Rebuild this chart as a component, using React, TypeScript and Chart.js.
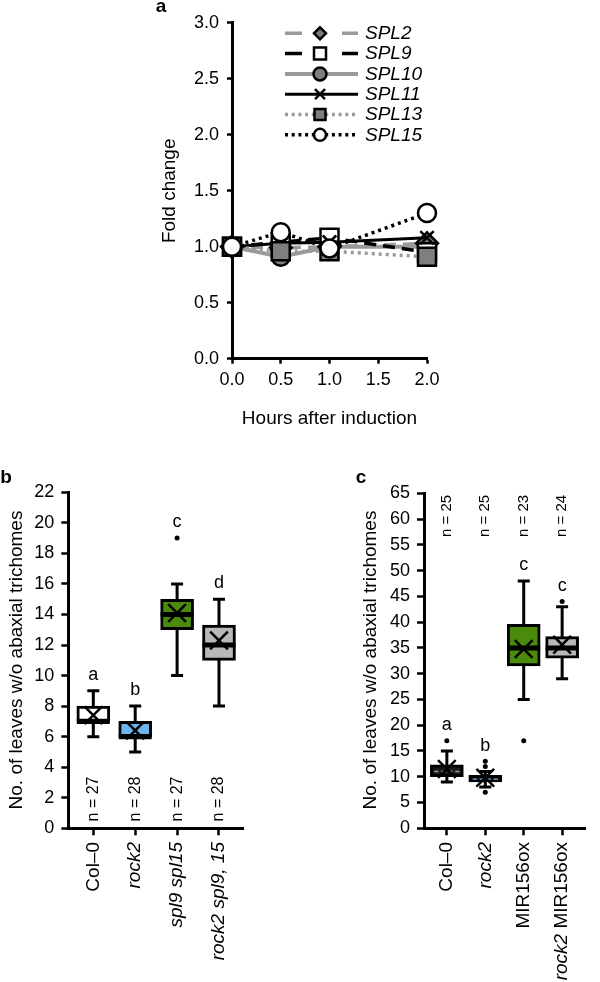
import React, { useEffect, useRef } from 'react';
import { Chart, registerables } from 'chart.js';

Chart.register(...registerables);

const FONT_FAMILY = '"Liberation Sans", Arial, Helvetica, sans-serif';

// ---------------- Panel a data ----------------
const hours = [0, 0.5, 1.0, 2.0];
const spl2Values = [1.0, 0.99, 1.0, 1.03];
const spl9Values = [1.0, 1.04, 1.08, 0.95];
const spl10Values = [1.0, 0.91, 1.0, 1.0];
const spl11Values = [1.0, 1.03, 1.04, 1.08];
const spl13Values = [1.0, 0.96, 0.96, 0.91];
const spl15Values = [1.0, 1.13, 0.985, 1.3];
const foldTicks = [0, 0.5, 1.0, 1.5, 2.0, 2.5, 3.0];
const hourTicks = [0, 0.5, 1.0, 1.5, 2.0];
const seriesLabels = ['SPL2', 'SPL9', 'SPL10', 'SPL11', 'SPL13', 'SPL15'];

// ---------------- Panel b data ----------------
const bGenotypes = ['Col–0', 'rock2', 'spl9 spl15', 'rock2 spl9, 15'];
const bMin = [6, 5, 10, 8];
const bQ1 = [7, 6, 13, 11];
const bMedian = [7, 6, 14, 12];
const bQ3 = [8, 7, 15, 13.3];
const bMax = [9, 8, 16, 15];
const bMean = [7.4, 6.4, 14.1, 12.3];
const bOutlierGroup = [3];
const bOutlierValue = [19];
const bLetters = ['a', 'b', 'c', 'd'];
const bCounts = ['n = 27', 'n = 28', 'n = 27', 'n = 28'];
const bTicks = [0, 2, 4, 6, 8, 10, 12, 14, 16, 18, 20, 22];

// ---------------- Panel c data ----------------
const cGenotypes = ['Col–0', 'rock2', 'MIR156ox', 'rock2 MIR156ox'];
const cMin = [9, 8, 25, 29];
const cQ1 = [10, 9, 31.5, 33];
const cMedian = [11, 9.5, 35, 35];
const cQ3 = [12.3, 10.3, 39.6, 37.2];
const cMax = [15, 11, 48, 43];
const cMean = [11.5, 9.8, 34.8, 35.6];
const cOutlierGroup = [1, 2, 2, 2, 3, 4];
const cOutlierValue = [17, 12, 13, 7, 17, 44];
const cLetters = ['a', 'b', 'c', 'c'];
const cCounts = ['n = 25', 'n = 25', 'n = 23', 'n = 24'];
const cTicks = [0, 5, 10, 15, 20, 25, 30, 35, 40, 45, 50, 55, 60, 65];

// ---------------- helpers ----------------
function font(size: number, style = 'normal', weight = 'normal') {
  return `${style} ${weight} ${size}px ${FONT_FAMILY}`;
}

type Seg = { text: string; italic: boolean };

function labelSegments(label: string): Seg[] {
  const tokens = label.split(' ');
  const segs: Seg[] = [];
  tokens.forEach((t, i) => {
    const italic = !/^(Col|MIR)/.test(t);
    segs.push({ text: t, italic });
    if (i < tokens.length - 1) segs.push({ text: ' ', italic });
  });
  return segs;
}

function drawRotatedSegments(ctx: CanvasRenderingContext2D, x: number, y: number, segs: Seg[], align: 'right' | 'center', size: number) {
  ctx.save();
  ctx.translate(x, y);
  ctx.rotate(-Math.PI / 2);
  ctx.textBaseline = 'middle';
  ctx.textAlign = 'left';
  ctx.fillStyle = '#000';
  const widths = segs.map((s) => {
    ctx.font = font(size, s.italic ? 'italic' : 'normal');
    return ctx.measureText(s.text).width;
  });
  const total = widths.reduce((a, b) => a + b, 0);
  let pos = align === 'right' ? -total : -total / 2;
  segs.forEach((s, i) => {
    ctx.font = font(size, s.italic ? 'italic' : 'normal');
    ctx.fillText(s.text, pos, 0);
    pos += widths[i];
  });
  ctx.restore();
}

function drawMarker(ctx: CanvasRenderingContext2D, kind: string, x: number, y: number, size: number, fill: string) {
  ctx.save();
  ctx.setLineDash([]);
  ctx.lineWidth = 2.5;
  ctx.strokeStyle = '#000';
  ctx.fillStyle = fill;
  ctx.beginPath();
  if (kind === 'circle') {
    ctx.arc(x, y, size, 0, Math.PI * 2);
  } else if (kind === 'rect') {
    ctx.rect(x - size, y - size, size * 2, size * 2);
  } else if (kind === 'rectRot') {
    ctx.moveTo(x, y - size);
    ctx.lineTo(x + size, y);
    ctx.lineTo(x, y + size);
    ctx.lineTo(x - size, y);
    ctx.closePath();
  } else if (kind === 'crossRot') {
    ctx.moveTo(x - size, y - size);
    ctx.lineTo(x + size, y + size);
    ctx.moveTo(x + size, y - size);
    ctx.lineTo(x - size, y + size);
    ctx.stroke();
    ctx.restore();
    return;
  }
  ctx.fill();
  ctx.stroke();
  ctx.restore();
}

// style specification for panel a series (in legend order)
const seriesStyles = [
  { values: spl2Values, color: '#9a9a9a', width: 3.5, dash: 'dash', point: 'rectRot', radius: 11, fill: '#7a7a7a', legendSize: 6, order: 4 },
  { values: spl9Values, color: '#000000', width: 3.5, dash: 'dash', point: 'rect', radius: 12.7, fill: '#ffffff', legendSize: 6, order: 3 },
  { values: spl10Values, color: '#9a9a9a', width: 4, dash: 'solid', point: 'circle', radius: 9, fill: '#7f7f7f', legendSize: 6.5, order: 5 },
  { values: spl11Values, color: '#000000', width: 3, dash: 'solid', point: 'crossRot', radius: 9.5, fill: '#000000', legendSize: 5, order: 2 },
  { values: spl13Values, color: '#9a9a9a', width: 3.5, dash: 'dot', point: 'rect', radius: 12.7, fill: '#7f7f7f', legendSize: 5.5, order: 1 },
  { values: spl15Values, color: '#000000', width: 3.5, dash: 'dot', point: 'circle', radius: 9, fill: '#ffffff', legendSize: 6, order: 0 },
];

function dashPattern(d: string) {
  if (d === 'dash') return [12, 7];
  if (d === 'dot') return [3, 4];
  return [];
}

function makeLineChart(canvas: HTMLCanvasElement) {
  const extras = {
    id: 'aExtras',
    afterDraw(chart: any) {
      const ctx: CanvasRenderingContext2D = chart.ctx;
      // legend
      seriesStyles.forEach((s, i) => {
        const y = 33.3 + i * 20.3;
        ctx.save();
        ctx.strokeStyle = s.color;
        ctx.lineWidth = s.width;
        ctx.lineCap = 'butt';
        if (s.dash === 'dash') {
          ctx.beginPath();
          ctx.moveTo(145, y);
          ctx.lineTo(162, y);
          ctx.moveTo(202, y);
          ctx.lineTo(218, y);
          ctx.stroke();
        } else {
          ctx.setLineDash(s.dash === 'dot' ? [3, 3.7] : []);
          ctx.beginPath();
          ctx.moveTo(145, y);
          ctx.lineTo(218, y);
          ctx.stroke();
        }
        ctx.restore();
        const legendKind = s.point;
        drawMarker(ctx, legendKind, 180, y, s.legendSize, s.fill);
        ctx.save();
        ctx.font = font(19, 'italic');
        ctx.fillStyle = '#000';
        ctx.textAlign = 'left';
        ctx.textBaseline = 'middle';
        ctx.fillText(seriesLabels[i], 225, y + 0.5);
        ctx.restore();
      });
      // titles
      ctx.save();
      ctx.fillStyle = '#000';
      ctx.font = font(19);
      ctx.textAlign = 'center';
      ctx.textBaseline = 'middle';
      const area = chart.chartArea;
      ctx.fillText('Hours after induction', (area.left + area.right) / 2, 418.3);
      ctx.translate(30, 190.8);
      ctx.rotate(-Math.PI / 2);
      ctx.fillText('Fold change', 0, 0);
      ctx.restore();
      ctx.save();
      ctx.fillStyle = '#000';
      ctx.font = font(19, 'normal', 'bold');
      ctx.textAlign = 'center';
      ctx.textBaseline = 'alphabetic';
      ctx.fillText('a', 21, 11.7);
      ctx.restore();
    },
  };

  return new Chart(canvas, {
    type: 'line',
    data: {
      datasets: seriesStyles.map((s, i) => ({
        label: seriesLabels[i],
        data: hours.map((h, k) => ({ x: h, y: s.values[k] })),
        borderColor: s.color,
        borderWidth: s.width,
        borderDash: dashPattern(s.dash),
        borderCapStyle: 'butt',
        pointStyle: s.point,
        pointRadius: s.radius,
        pointHoverRadius: s.radius,
        pointBackgroundColor: s.fill,
        pointBorderColor: '#000',
        pointBorderWidth: 2.5,
        fill: false,
        tension: 0,
        order: s.order,
        clip: false,
      })) as any,
    },
    options: {
      animation: false,
      responsive: false,
      maintainAspectRatio: false,
      devicePixelRatio: 1,
      events: [],
      layout: { padding: { left: 0, top: 22.7, right: 33, bottom: 0 } },
      plugins: { legend: { display: false }, tooltip: { enabled: false } },
      scales: {
        x: {
          type: 'linear',
          min: 0,
          max: 2,
          offset: false,
          afterBuildTicks: (axis: any) => {
            axis.ticks = hourTicks.map((v) => ({ value: v }));
          },
          afterFit: (axis: any) => {
            axis.height = 81.3;
          },
          ticks: {
            callback: (v: any) => Number(v).toFixed(1),
            font: { family: FONT_FAMILY, size: 18 },
            color: '#000',
            padding: 6,
            maxRotation: 0,
            autoSkip: false,
          },
          grid: { drawOnChartArea: false, offset: false, tickLength: 5, tickColor: '#000', tickWidth: 2.5 },
          border: { color: '#000', width: 3 },
        },
        y: {
          type: 'linear',
          min: 0,
          max: 3,
          afterBuildTicks: (axis: any) => {
            axis.ticks = foldTicks.map((v) => ({ value: v }));
          },
          afterFit: (axis: any) => {
            axis.width = 92;
          },
          ticks: {
            callback: (v: any) => Number(v).toFixed(1),
            font: { family: FONT_FAMILY, size: 18 },
            color: '#000',
            padding: 8,
            autoSkip: false,
          },
          grid: { drawOnChartArea: false, tickLength: 5, tickColor: '#000', tickWidth: 2.5 },
          border: { color: '#000', width: 3 },
        },
      },
    } as any,
    plugins: [extras],
  });
}

type BoxPanel = {
  categories: string[];
  min: number[];
  q1: number[];
  median: number[];
  q3: number[];
  max: number[];
  mean: number[];
  outGroup: number[];
  outValue: number[];
  letters: string[];
  counts: string[];
  ticks: number[];
  fills: string[];
  medianDash: (string | null)[];
  padTop: number;
  padRight: number;
  yWidth: number;
  xHeight: number;
  xMin: number;
  xMax: number;
  countY: number;
  countSize: number;
  panelLabel: string;
  panelLabelPos: [number, number];
  titlePos: [number, number];
};

function makeBoxChart(canvas: HTMLCanvasElement, p: BoxPanel) {
  const xs = p.categories.map((_, i) => i + 1);
  const boxHalf = 16.5;
  const capHalf = 6;

  const extras = {
    id: 'boxExtras',
    beforeDatasetsDraw(chart: any) {
      const ctx: CanvasRenderingContext2D = chart.ctx;
      const xScale = chart.scales.x;
      const yScale = chart.scales.y;
      ctx.save();
      ctx.strokeStyle = '#000';
      ctx.lineWidth = 3;
      ctx.lineCap = 'butt';
      xs.forEach((xv, i) => {
        const x = xScale.getPixelForValue(xv);
        const yLo = yScale.getPixelForValue(p.min[i]);
        const yHi = yScale.getPixelForValue(p.max[i]);
        ctx.beginPath();
        ctx.moveTo(x, yLo);
        ctx.lineTo(x, yHi);
        ctx.moveTo(x - capHalf, yLo);
        ctx.lineTo(x + capHalf, yLo);
        ctx.moveTo(x - capHalf, yHi);
        ctx.lineTo(x + capHalf, yHi);
        ctx.stroke();
      });
      ctx.restore();
    },
    afterDatasetDraw(chart: any, args: any) {
      if (args.index !== 0) return;
      const ctx: CanvasRenderingContext2D = chart.ctx;
      const xScale = chart.scales.x;
      const yScale = chart.scales.y;
      xs.forEach((xv, i) => {
        const x = xScale.getPixelForValue(xv);
        const y = yScale.getPixelForValue(p.median[i]);
        ctx.save();
        const dashColor = p.medianDash[i];
        if (dashColor) {
          ctx.strokeStyle = dashColor;
          ctx.lineWidth = 1.5;
          ctx.setLineDash([4, 3]);
          ctx.beginPath();
          ctx.moveTo(x - boxHalf + 4, y);
          ctx.lineTo(x + boxHalf - 4, y);
          ctx.stroke();
        } else {
          ctx.strokeStyle = '#000';
          ctx.lineWidth = 5;
          ctx.beginPath();
          ctx.moveTo(x - boxHalf, y);
          ctx.lineTo(x + boxHalf, y);
          ctx.stroke();
        }
        ctx.restore();
      });
    },
    afterDraw(chart: any) {
      const ctx: CanvasRenderingContext2D = chart.ctx;
      const xScale = chart.scales.x;
      const yScale = chart.scales.y;
      xs.forEach((xv, i) => {
        const x = xScale.getPixelForValue(xv);
        // significance letters
        let top = p.max[i];
        p.outGroup.forEach((g, k) => {
          if (g === xv && p.outValue[k] > top) top = p.outValue[k];
        });
        const cy = yScale.getPixelForValue(top) - 15.5;
        ctx.save();
        ctx.fillStyle = '#000';
        ctx.font = font(18);
        ctx.textAlign = 'center';
        ctx.textBaseline = 'alphabetic';
        ctx.fillText(p.letters[i], x, cy + 4.7);
        ctx.restore();
        // n labels
        drawRotatedSegments(ctx, x, p.countY, [{ text: p.counts[i], italic: false }], 'center', p.countSize);
        // category labels
        drawRotatedSegments(ctx, x, 402, labelSegments(p.categories[i]), 'right', 19);
      });
      // y title
      ctx.save();
      ctx.fillStyle = '#000';
      ctx.font = font(19);
      ctx.textAlign = 'center';
      ctx.textBaseline = 'middle';
      ctx.translate(p.titlePos[0], p.titlePos[1]);
      ctx.rotate(-Math.PI / 2);
      ctx.fillText('No. of leaves w/o abaxial trichomes', 0, 0);
      ctx.restore();
      // panel label
      ctx.save();
      ctx.fillStyle = '#000';
      ctx.font = font(19, 'normal', 'bold');
      ctx.textAlign = 'center';
      ctx.textBaseline = 'alphabetic';
      ctx.fillText(p.panelLabel, p.panelLabelPos[0], p.panelLabelPos[1]);
      ctx.restore();
    },
  };

  return new Chart(canvas, {
    type: 'bar',
    data: {
      datasets: [
        {
          type: 'bar',
          data: xs.map((x, i) => ({ x, y: [p.q1[i], p.q3[i]] })),
          backgroundColor: p.fills,
          borderColor: '#000',
          borderWidth: 3,
          borderSkipped: false,
          barThickness: 33,
          order: 3,
          clip: false,
        },
        {
          type: 'line',
          data: xs.map((x, i) => ({ x, y: p.mean[i] })),
          showLine: false,
          pointStyle: 'crossRot',
          pointRadius: 12.5,
          pointHoverRadius: 12.5,
          pointBorderColor: '#000',
          pointBackgroundColor: '#000',
          pointBorderWidth: 2.5,
          order: 1,
          clip: false,
        },
        {
          type: 'line',
          data: p.outGroup.map((g, i) => ({ x: g, y: p.outValue[i] })),
          showLine: false,
          pointStyle: 'circle',
          pointRadius: 2.5,
          pointHoverRadius: 2.5,
          pointBackgroundColor: '#000',
          pointBorderColor: '#000',
          pointBorderWidth: 0,
          order: 2,
          clip: false,
        },
      ] as any,
    },
    options: {
      animation: false,
      responsive: false,
      maintainAspectRatio: false,
      devicePixelRatio: 1,
      events: [],
      layout: { padding: { left: 0, top: p.padTop, right: p.padRight, bottom: 0 } },
      plugins: { legend: { display: false }, tooltip: { enabled: false } },
      scales: {
        x: {
          type: 'linear',
          min: p.xMin,
          max: p.xMax,
          offset: false,
          afterBuildTicks: (axis: any) => {
            axis.ticks = xs.map((v) => ({ value: v }));
          },
          afterFit: (axis: any) => {
            axis.height = p.xHeight;
          },
          ticks: {
            callback: () => '',
            font: { family: FONT_FAMILY, size: 18 },
            color: '#000',
            padding: 0,
            maxRotation: 0,
            autoSkip: false,
          },
          grid: { drawOnChartArea: false, offset: false, tickLength: 7, tickColor: '#000', tickWidth: 2.5 },
          border: { color: '#000', width: 3 },
        },
        y: {
          type: 'linear',
          min: p.ticks[0],
          max: p.ticks[p.ticks.length - 1],
          afterBuildTicks: (axis: any) => {
            axis.ticks = p.ticks.map((v) => ({ value: v }));
          },
          afterFit: (axis: any) => {
            axis.width = p.yWidth;
          },
          ticks: {
            callback: (v: any) => String(v),
            font: { family: FONT_FAMILY, size: 18 },
            color: '#000',
            padding: 7,
            autoSkip: false,
          },
          grid: { drawOnChartArea: false, tickLength: 7, tickColor: '#000', tickWidth: 2.5 },
          border: { color: '#000', width: 3 },
        },
      },
    } as any,
    plugins: [extras],
  });
}

const panelB: BoxPanel = {
  categories: bGenotypes,
  min: bMin,
  q1: bQ1,
  median: bMedian,
  q3: bQ3,
  max: bMax,
  mean: bMean,
  outGroup: bOutlierGroup,
  outValue: bOutlierValue,
  letters: bLetters,
  counts: bCounts,
  ticks: bTicks,
  fills: ['#ffffff', '#6cb4ec', '#4b8a0b', '#b8b8b8'],
  medianDash: [null, null, null, null],
  padTop: 52.3,
  padRight: 57,
  yWidth: 68.3,
  xHeight: 153.7,
  xMin: 0.403,
  xMax: 4.573,
  countY: 359,
  countSize: 16,
  panelLabel: 'b',
  panelLabelPos: [6, 43],
  titlePos: [16.7, 220],
};

const panelC: BoxPanel = {
  categories: cGenotypes,
  min: cMin,
  q1: cQ1,
  median: cMedian,
  q3: cQ3,
  max: cMax,
  mean: cMean,
  outGroup: cOutlierGroup,
  outValue: cOutlierValue,
  letters: cLetters,
  counts: cCounts,
  ticks: cTicks,
  fills: ['#1a1a1a', '#1a1a1a', '#4b8a0b', '#b8b8b8'],
  medianDash: ['#a0a0a0', '#5b95c8', null, null],
  padTop: 53.3,
  padRight: 0,
  yWidth: 124,
  xHeight: 153.7,
  xMin: 0.405,
  xMax: 4.595,
  countY: 76,
  countSize: 15,
  panelLabel: 'c',
  panelLabelPos: [61, 43],
  titlePos: [71, 220],
};

export default function App() {
  const aRef = useRef<HTMLCanvasElement>(null);
  const bRef = useRef<HTMLCanvasElement>(null);
  const cRef = useRef<HTMLCanvasElement>(null);

  useEffect(() => {
    const charts = [
      makeLineChart(aRef.current as HTMLCanvasElement),
      makeBoxChart(bRef.current as HTMLCanvasElement, panelB),
      makeBoxChart(cRef.current as HTMLCanvasElement, panelC),
    ];
    return () => charts.forEach((c) => c.destroy());
  }, []);

  return (
    <div style={{ position: 'absolute', left: 0, top: 0, width: 600, height: 982, background: '#fff', overflow: 'hidden' }}>
      <canvas ref={aRef} width={320} height={440} style={{ position: 'absolute', left: 140, top: 0, width: 320, height: 440 }} />
      <canvas ref={bRef} width={300} height={542} style={{ position: 'absolute', left: 0, top: 440, width: 300, height: 542 }} />
      <canvas ref={cRef} width={300} height={542} style={{ position: 'absolute', left: 300, top: 440, width: 300, height: 542 }} />
    </div>
  );
}
